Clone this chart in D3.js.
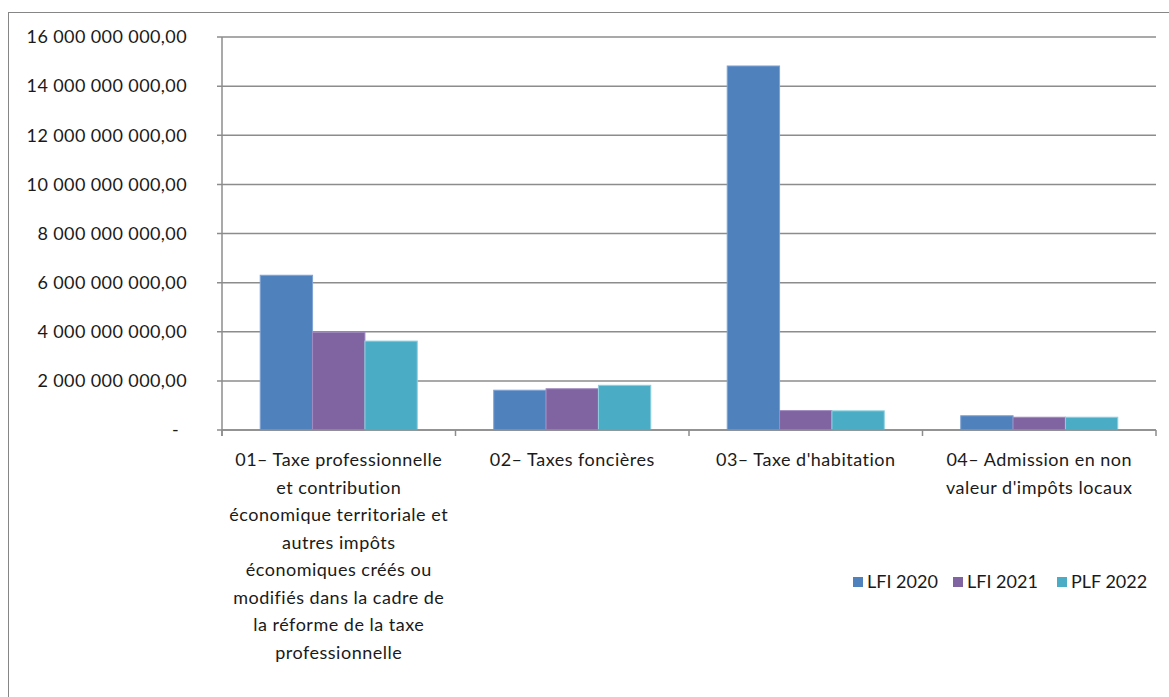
<!DOCTYPE html>
<html><head><meta charset="utf-8">
<script src="https://cdn.jsdelivr.net/npm/d3@7"></script>
<style>body{margin:0;background:#fff}svg{display:block}text{font-family:Lato,"Open Sans",sans-serif;fill:#1a1a1a}</style>
</head><body><svg id="c" width="1169" height="697"></svg>
<script>
const categories = [
  "01– Taxe professionnelle\net contribution\néconomique territoriale et\nautres impôts\néconomiques créés ou\nmodifiés dans la cadre de\nla réforme de la taxe\nprofessionnelle",
  "02– Taxes foncières",
  "03– Taxe d'habitation",
  "04– Admission en non\nvaleur d'impôts locaux"
];
const seriesNames = ["LFI 2020", "LFI 2021", "PLF 2022"];
const lfi2020 = [6.30e9, 1.62e9, 14.82e9, 0.58e9];
const lfi2021 = [3.98e9, 1.68e9, 0.79e9, 0.52e9];
const plf2022 = [3.62e9, 1.82e9, 0.78e9, 0.52e9];
const yTicks = [0, 2e9, 4e9, 6e9, 8e9, 10e9, 12e9, 14e9, 16e9];
const colors = ["#4F81BD", "#8064A2", "#4BACC6"];
const strokes = ["#7fa3d3", "#a08ac0", "#8fd0e0"];

(function () {
const series = [lfi2020, lfi2021, plf2022];
const svg = d3.select("#c");
const mL = 222, mR = 1156, mT = 37, mB = 430;

svg.append("rect").attr("x", 8.5).attr("y", 12.5).attr("width", 1200).attr("height", 800)
  .attr("fill", "none").attr("stroke", "#868686").attr("stroke-width", 1);

const y = d3.scaleLinear().domain([0, 16e9]).range([mB, mT]);
const x0 = d3.scaleBand().domain(d3.range(categories.length)).range([mL, mR]).paddingInner(0).paddingOuter(0);
const x1 = d3.scaleBand().domain(d3.range(series.length)).range([0, x0.bandwidth()]).paddingInner(0).paddingOuter(0.73);

const fmt = v => v === 0 ? "-" : d3.format(",.2f")(v).replace(/,/g, " ").replace(".", ",");

svg.append("g").selectAll("line").data(yTicks).join("line")
  .attr("x1", mL - 5).attr("x2", mR).attr("y1", d => y(d)).attr("y2", d => y(d))
  .attr("stroke", "#8c8c8c").attr("stroke-width", 1.5);
svg.append("line").attr("x1", mL).attr("x2", mL).attr("y1", mT).attr("y2", mB + 6)
  .attr("stroke", "#8c8c8c").attr("stroke-width", 1.5);
svg.append("g").selectAll("text").data(yTicks).join("text")
  .attr("x", d => d === 0 ? 179 : 187).attr("y", d => y(d)).attr("dy", "0.35em")
  .attr("text-anchor", "end").attr("font-size", 18).attr("letter-spacing", 0.4).text(fmt);

const g = svg.append("g");
categories.forEach((c, i) => {
  series.forEach((s, j) => {
    g.append("rect")
      .attr("x", x0(i) + x1(j)).attr("width", x1.bandwidth())
      .attr("y", y(s[i])).attr("height", y(0) - y(s[i]))
      .attr("fill", colors[j]).attr("stroke", strokes[j]).attr("stroke-width", 1);
  });
});

const bounds = d3.range(categories.length + 1).map(i => i < categories.length ? x0(i) : mR);
svg.append("g").selectAll("line").data(bounds).join("line")
  .attr("x1", d => d).attr("x2", d => d).attr("y1", mB).attr("y2", mB + 6)
  .attr("stroke", "#8c8c8c").attr("stroke-width", 1.5);
svg.append("line").attr("x1", mL).attr("x2", mR).attr("y1", mB).attr("y2", mB)
  .attr("stroke", "#8c8c8c").attr("stroke-width", 1.5);

categories.forEach((c, i) => {
  const cx = x0(i) + x0.bandwidth() / 2;
  const t = svg.append("text").attr("text-anchor", "middle").attr("font-size", 18)
    .attr("letter-spacing", 0.5).attr("x", cx).attr("y", 466);
  c.split("\n").forEach((line, k) => {
    t.append("tspan").attr("x", cx).attr("y", 466 + k * 27.5).text(line);
  });
});

const legX = [853, 953, 1057];
seriesNames.forEach((n, j) => {
  svg.append("rect").attr("x", legX[j]).attr("y", 577).attr("width", 10).attr("height", 10).attr("fill", colors[j]);
  svg.append("text").attr("x", legX[j] + 14).attr("y", 582).attr("dy", "0.35em").attr("font-size", 18).text(n);
});
})();
</script></body></html>
